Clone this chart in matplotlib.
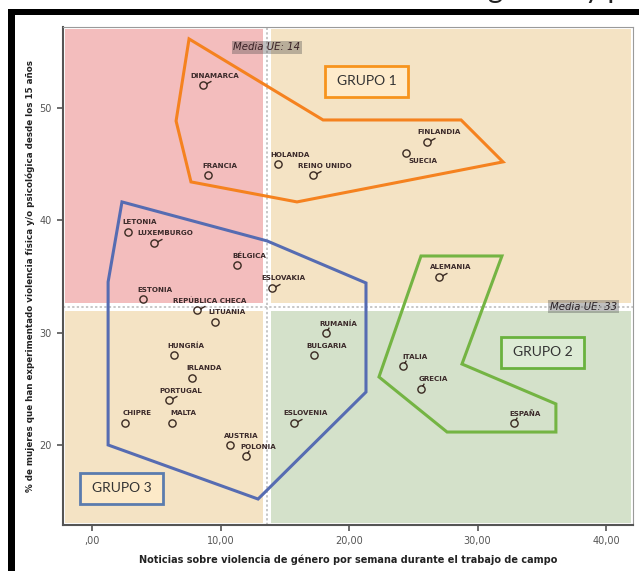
import numpy as np
import matplotlib
matplotlib.use("Agg")
import matplotlib.pyplot as plt
from matplotlib.patches import Rectangle, Polygon
from matplotlib.path import Path

# ---------------- data ----------------
countries = ["DINAMARCA", "FRANCIA", "HOLANDA", "REINO UNIDO", "FINLANDIA", "SUECIA",
             "LETONIA", "LUXEMBURGO", "BÉLGICA", "ESLOVAKIA", "ESTONIA", "REPÚBLICA CHECA",
             "LITUANIA", "HUNGRÍA", "IRLANDA", "PORTUGAL", "CHIPRE", "MALTA", "AUSTRIA",
             "POLONIA", "RUMANÍA", "BULGARIA", "ESLOVENIA", "ALEMANIA", "ITALIA", "GRECIA",
             "ESPAÑA"]
noticias = [8.6, 9.0, 14.5, 17.2, 26.1, 24.4, 2.8, 4.8, 11.3, 14.0, 4.0, 8.2, 9.6, 6.4,
            7.8, 6.0, 2.6, 6.2, 10.7, 12.0, 18.2, 17.3, 15.7, 27.0, 24.2, 25.6, 32.8]
violencia = [52, 44, 45, 44, 47, 46, 39, 38, 36, 34, 33, 32, 31, 28, 26, 24, 22, 22, 20,
             19, 30, 28, 22, 35, 27, 25, 22]
petals = ['ur', None, None, 'ur', 'ur', None, None, 'ur', None, 'ur', None, 'ur', None,
          None, None, 'ur', None, None, None, 'up', 'up', None, 'ur', 'ur', 'up', 'up', 'up']

grupo1_x = [7.55, 17.98, 28.72, 31.98, 15.95, 7.7, 6.54]
grupo1_y = [56.14, 48.93, 48.93, 45.2, 41.64, 43.42, 48.84]
grupo2_x = [25.6, 31.9, 28.79, 36.1, 36.1, 27.63, 22.33]
grupo2_y = [36.83, 36.83, 27.22, 23.67, 21.17, 21.17, 26.07]
grupo3_x = [2.33, 13.62, 21.32, 21.32, 12.92, 1.25, 1.25]
grupo3_y = [41.64, 38.17, 34.43, 24.73, 15.21, 20.02, 34.52]

media_x = 13.6
media_y = 32.3
media_x_label = "Media UE: 14"
media_y_label = "Media UE: 33"

xticks = [0, 10, 20, 30, 40]
xticklabels = [",00", "10,00", "20,00", "30,00", "40,00"]
yticks = [20, 30, 40, 50]
yticklabels = ["20", "30", "40", "50"]

grupo_labels = ["GRUPO 1", "GRUPO 2", "GRUPO 3"]

# ---------------- figure ----------------
W, H = 639, 571
fig = plt.figure(figsize=(W / 100, H / 100), dpi=100)
fig.patch.set_facecolor("white")

ax = fig.add_axes([63 / W, 1 - 525 / H, (633 - 63) / W, (525 - 27) / H])
xlim = (-2.26, 42.1)
ylim = (12.9, 57.2)
ax.set_xlim(*xlim)
ax.set_ylim(*ylim)
ax.set_facecolor("white")

# quadrant backgrounds
px_x = (xlim[1] - xlim[0]) / 570.0
px_y = (ylim[1] - ylim[0]) / 498.0
m = 2
g = 4
quads = [
    (xlim[0] + m * px_x, media_y + g * px_y, media_x - g * px_x, ylim[1] - m * px_y, "#F3BDBD"),
    (media_x + g * px_x, media_y + g * px_y, xlim[1] - m * px_x, ylim[1] - m * px_y, "#F4E3C4"),
    (xlim[0] + m * px_x, ylim[0] + m * px_y, media_x - g * px_x, media_y - g * px_y, "#F4E3C4"),
    (media_x + g * px_x, ylim[0] + m * px_y, xlim[1] - m * px_x, media_y - g * px_y, "#D4E1CA"),
]
for x0, y0, x1, y1, c in quads:
    ax.add_patch(Rectangle((x0, y0), x1 - x0, y1 - y0, facecolor=c, edgecolor="none", zorder=0))

# mean lines
ax.axvline(media_x, color="#B8B8B8", lw=1.1, ls=(0, (1.5, 1.5)), zorder=1)
ax.axhline(media_y, color="#B8B8B8", lw=1.1, ls=(0, (1.5, 1.5)), zorder=1)

# group polygons
ax.add_patch(Polygon(np.column_stack([grupo1_x, grupo1_y]), closed=True, fill=False,
                     edgecolor="#F5821F", lw=2.2, joinstyle="miter", zorder=3))
ax.add_patch(Polygon(np.column_stack([grupo2_x, grupo2_y]), closed=True, fill=False,
                     edgecolor="#74B443", lw=2.2, joinstyle="miter", zorder=3))
ax.add_patch(Polygon(np.column_stack([grupo3_x, grupo3_y]), closed=True, fill=False,
                     edgecolor="#566CB2", lw=2.2, joinstyle="miter", zorder=3))

# markers
def petal_marker(angle_deg, r_out):
    circ = Path.unit_circle()
    a = np.deg2rad(angle_deg)
    line = Path([[np.cos(a), np.sin(a)], [r_out * np.cos(a), r_out * np.sin(a)]],
                [Path.MOVETO, Path.LINETO])
    p = Path.make_compound_path(circ, line)
    return p, np.max(np.abs(p.vertices))

base_ms = 5.2
pet_defs = {'ur': (28, 2.5), 'up': (65, 1.8)}
mc = "#3A2A22"
for x, y, p in zip(noticias, violencia, petals):
    if p is None:
        ax.plot([x], [y], marker="o", ms=base_ms, mfc="none", mec=mc, mew=1.0,
                ls="none", zorder=5)
    else:
        ang, r = pet_defs[p]
        path, mx = petal_marker(ang, r)
        ax.plot([x], [y], marker=path, ms=base_ms * mx, mfc="none", mec=mc, mew=1.0,
                ls="none", zorder=5)

# point labels
default_off = (12, 9.5)
label_off = {"SUECIA": (17, -8)}
for name, x, y in zip(countries, noticias, violencia):
    off = label_off.get(name, default_off)
    ax.annotate(name, (x, y), xytext=off, textcoords="offset pixels",
                ha="center", va="center", fontsize=5.1, fontweight="bold",
                color="#3B2A2A", family="DejaVu Sans", zorder=6)

# group boxes
boxes = [
    (18.13, 50.98, 24.59, 53.74, "#FEEBCB", "#F7941D"),
    (31.83, 26.87, 38.29, 29.63, "#DDEBD5", "#6AB23E"),
    (-0.93, 14.77, 5.53, 17.53, "#FDEAC8", "#5B7CAE"),
]
for (x0, y0, x1, y1, fc, ec), lab in zip(boxes, grupo_labels):
    ax.add_patch(Rectangle((x0, y0), x1 - x0, y1 - y0, facecolor=fc, edgecolor=ec,
                           lw=2.0, zorder=4))
    ax.text((x0 + x1) / 2, (y0 + y1) / 2, lab, ha="center", va="center",
            fontsize=10, family="Lato", color="#333333", zorder=5)

# mean labels
ax.text(media_x, 55.38, media_x_label, ha="center", va="center", fontsize=7.3,
        style="italic", color="#3A2226", zorder=7,
        bbox=dict(boxstyle="square,pad=0.15", facecolor="#4A4A4A", alpha=0.35,
                  edgecolor="none"))
ax.text(38.25, media_y, media_y_label, ha="center", va="center", fontsize=7.3,
        style="italic", color="#2A2226", zorder=7,
        bbox=dict(boxstyle="square,pad=0.15", facecolor="#4A4A4A", alpha=0.35,
                  edgecolor="none"))

# axes styling
for s in ["left", "bottom"]:
    ax.spines[s].set_color("#555555")
    ax.spines[s].set_linewidth(1.5)
for s in ["top", "right"]:
    ax.spines[s].set_color("#9A9A9A")
    ax.spines[s].set_linewidth(0.8)
ax.set_xticks(xticks)
ax.set_xticklabels(xticklabels)
ax.set_yticks(yticks)
ax.set_yticklabels(yticklabels)
ax.tick_params(axis="both", direction="out", length=4, width=1.2, color="#555555",
               labelcolor="#555555", labelsize=7, pad=4)

ax.set_xlabel("Noticias sobre violencia de género por semana durante el trabajo de campo",
              fontsize=7.0, fontweight="bold", color="#222222", labelpad=6)
ax.set_ylabel("% de mujeres que han experimentado violencia física y/o psicológica desde los 15 años",
              fontsize=6.3, fontweight="bold", color="#222222", labelpad=3)

# screenshot frame
fig.add_artist(Rectangle((8 / W, 0), 7 / W, 1 - 9 / H, transform=fig.transFigure,
                         facecolor="black", edgecolor="none"))
fig.add_artist(Rectangle((8 / W, 1 - 15 / H), 1 - 8 / W, 6 / H, transform=fig.transFigure,
                         facecolor="black", edgecolor="none"))
# cut-off title of the original slide (only descenders visible)
fig.text(488 / W, 1 + 2 / H, "género y p", fontsize=21, family="Lato",
         color="#222222", ha="left", va="baseline")

fig.savefig("out.png", dpi=100, facecolor="white")
